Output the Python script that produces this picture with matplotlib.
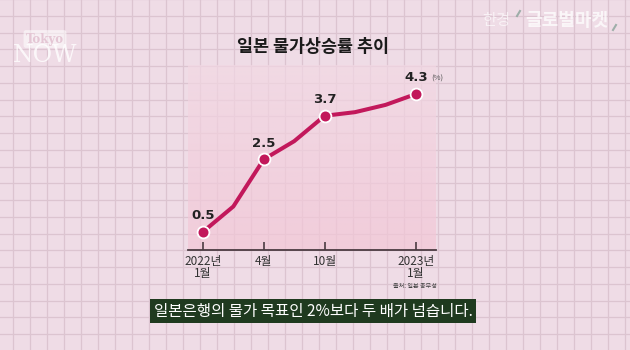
import matplotlib.pyplot as plt
from matplotlib.colors import LinearSegmentedColormap
import numpy as np

plt.rcParams['font.family'] = ['Noto Sans CJK KR', 'DejaVu Sans']

# monthly CPI samples (index positions along the x axis)
rates = [0.5, 1.2, 2.5, 3.0, 3.7, 3.8, 4.0, 4.3]
tick_pos = [0, 2, 4, 7]
tick_labels = ['2022년\n1월', '4월', '10월', '2023년\n1월']
labelled = [0, 2, 4, 7]

line_color = '#c2185b'
bg_color = '#efdce6'
grid_color = '#dcc4d0'

fig = plt.figure(figsize=(6.3, 3.5), dpi=100)
fig.patch.set_facecolor(bg_color)

# full-figure background with the notebook grid
bg = fig.add_axes([0, 0, 1, 1])
bg.set_xlim(0, 630)
bg.set_ylim(350, 0)
bg.axis('off')
for gx in np.arange(12.7, 630, 17.0):
    bg.axvline(gx, color=grid_color, lw=0.9, zorder=0)
for gy in np.arange(-1.0, 350, 16.75):
    bg.axhline(gy, color=grid_color, lw=0.9, zorder=0)

# chart area
x0, x1, ybase, ytop = 188, 436, 250, 65
ax = fig.add_axes([x0 / 630, 1 - ybase / 350, (x1 - x0) / 630, (ybase - ytop) / 350])
ax.patch.set_alpha(0)
xlim = (-0.49, 7.66)
ylim = (0, 5.1)
ax.set_xlim(*xlim)
ax.set_ylim(*ylim)

grad = LinearSegmentedColormap.from_list('pinkfade', ['#f2c6d6', '#f2d9e4'])
ax.imshow(np.linspace(0, 1, 200).reshape(-1, 1), extent=[xlim[0], xlim[1], ylim[0], ylim[1]],
          origin='lower', aspect='auto', cmap=grad, alpha=0.7, zorder=0)

xs = np.arange(len(rates))
ax.plot(xs, rates, color=line_color, lw=2.9, solid_capstyle='round', zorder=3)
ax.plot([xs[i] for i in labelled], [rates[i] for i in labelled], 'o', ms=8.5,
        color=line_color, mec='white', mew=1.3, zorder=4)
for i in labelled:
    ax.annotate(f'{rates[i]}', (xs[i], rates[i]), xytext=(0, 7), textcoords='offset points',
                ha='center', va='bottom', fontsize=9.5, fontweight='bold', color='#222222',
                family=['DejaVu Sans'])
ax.annotate('(%)', (xs[-1], rates[-1]), xytext=(11, 8.5), textcoords='offset points',
            ha='left', va='bottom', fontsize=5.5, color='#555555')

for side in ['left', 'right', 'top']:
    ax.spines[side].set_visible(False)
ax.spines['bottom'].set_color('#4b3b42')
ax.spines['bottom'].set_linewidth(1.3)
ax.set_yticks([])
ax.set_xticks(tick_pos)
ax.set_xticklabels(tick_labels, fontsize=8.5, color='#333333', linespacing=0.95)
ax.tick_params(axis='x', direction='in', length=6, width=1.2, color='#4b3b42', pad=3.5)

# titles and captions
bg.text(313, 47, '일본 물가상승률 추이', ha='center', va='center', fontsize=12.5,
        fontweight='bold', color='#1a1a1a')
bg.text(437, 286, '출처: 일본 총무성', ha='right', va='center', fontsize=4.4, color='#444444')
bg.text(313, 311, '일본은행의 물가 목표인 2%보다 두 배가 넘습니다.', ha='center', va='center',
        fontsize=11.2, color='white',
        bbox=dict(facecolor='#1f3a1f', edgecolor='none', boxstyle='square,pad=0.2'))

# channel marks
bg.text(45, 39, 'Tokyo', ha='center', va='center', fontsize=8.5, fontweight='bold',
        family=['DejaVu Serif'], color='#e4c6d4',
        bbox=dict(facecolor='white', edgecolor='none', alpha=0.55, boxstyle='round,pad=0.2'))
bg.text(45, 56, 'NOW', ha='center', va='center', fontsize=17, family=['DejaVu Serif'],
        color='white', alpha=0.8)
bg.text(496, 20, '한경', ha='center', va='center', fontsize=11, color='white', alpha=0.65)
bg.text(567, 20, '글로벌마켓', ha='center', va='center', fontsize=13, fontweight='bold',
        color='white', alpha=0.75)
bg.plot([517, 520], [16, 11], color='#8aa39a', lw=1.5, alpha=0.8)
bg.plot([613, 616], [30, 25], color='#8aa39a', lw=1.5, alpha=0.8)

fig.savefig('out.png', dpi=100, facecolor=bg_color)
